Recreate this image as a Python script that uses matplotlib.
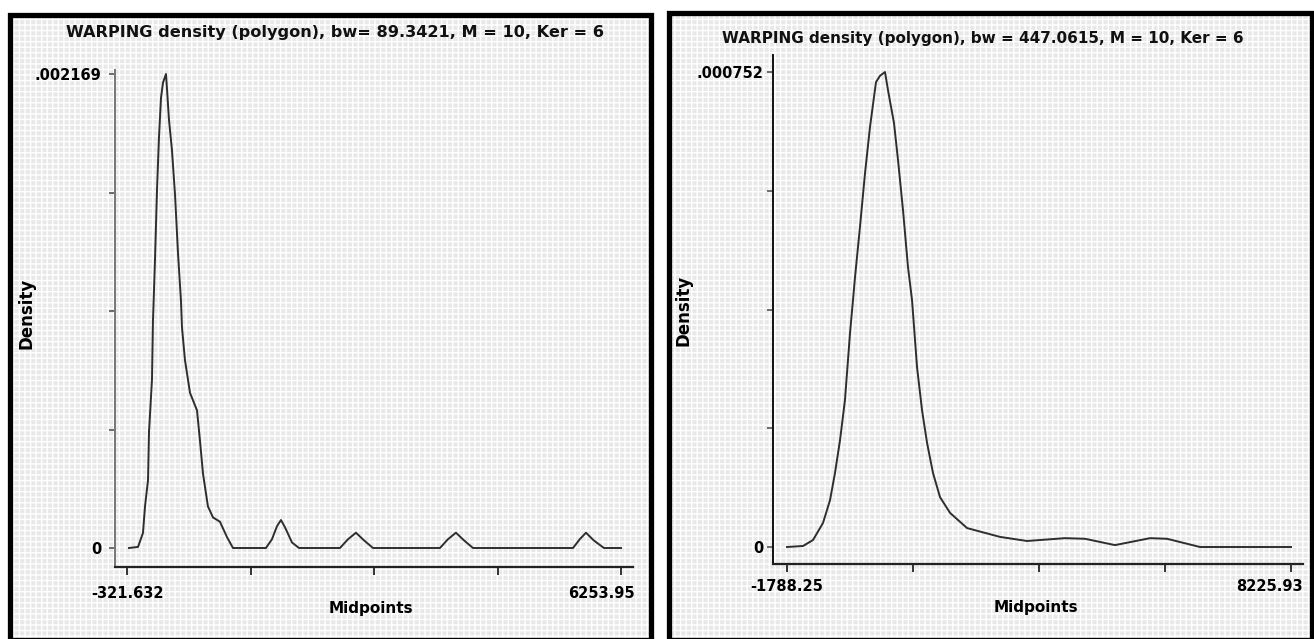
import numpy as np
import matplotlib
matplotlib.use('Agg')
import matplotlib.pyplot as plt
from matplotlib.patches import Rectangle
from matplotlib.transforms import ScaledTranslation

# left panel: bw = 89.3421
left_x = [-295, -175, -109, -82, -42, -29, 11, 24, 51, 78, 104, 131, 158, 197,
          211, 237, 277, 317, 357, 397, 410, 450, 517, 610, 650, 690, 756, 823, 916, 1009, 1089, 1182,
          1528, 1608, 1675, 1728, 1781, 1875, 1968,
          2513, 2620, 2726, 2833, 2953,
          3844, 3950, 4057, 4164, 4284,
          5615, 5705, 5788, 5890, 6027,
          6254]
left_y = [0, 5e-6, 6.9e-5, 1.9e-4, 3.1e-4, 5.3e-4, 7.7e-4, 1.04e-3, 1.32e-3, 1.64e-3, 1.88e-3, 2.06e-3, 2.13e-3, 2.169e-3,
          2.10e-3, 1.96e-3, 1.82e-3, 1.62e-3, 1.35e-3, 1.13e-3, 1.01e-3, 8.6e-4, 7.1e-4, 6.3e-4, 4.9e-4, 3.4e-4, 1.9e-4, 1.4e-4, 1.2e-4, 5e-5, 0, 0,
          0, 4e-5, 1.0e-4, 1.28e-4, 9.5e-5, 2.5e-5, 0,
          0, 4e-5, 7e-5, 3.5e-5, 0,
          0, 4e-5, 7e-5, 3.5e-5, 0,
          0, 4e-5, 7e-5, 3.5e-5, 0,
          0]
left_xrange = (-321.632, 6253.95)
left_ymax = 0.002169
left_xlabels = ['-321.632', '6253.95']
left_ylabels = ['.002169', '0']
left_title = 'WARPING density (polygon), bw= 89.3421, M = 10, Ker = 6'

# right panel: bw = 447.0615
right_x = [-1788, -1470, -1272, -1073, -934, -835, -735, -636, -536, -477, -437, -338, -238, -139, -20, 60, 159,
           219, 338, 417, 517, 616, 696, 795, 894, 994, 1113, 1252, 1451, 1789, 1928, 2444, 2981, 3736, 4133,
           4729, 5425, 5763, 6418, 8226]
right_y = [0, 1.6e-6, 1.1e-5, 3.8e-5, 7.4e-5, 1.17e-4, 1.69e-4, 2.33e-4, 3.39e-4, 3.91e-4, 4.27e-4, 5.07e-4, 5.92e-4, 6.65e-4, 7.36e-4, 7.46e-4, 7.52e-4,
           7.23e-4, 6.71e-4, 6.13e-4, 5.33e-4, 4.43e-4, 3.91e-4, 2.85e-4, 2.17e-4, 1.65e-4, 1.17e-4, 7.9e-5, 5.4e-5, 3.0e-5, 2.7e-5, 1.6e-5, 9.5e-6, 1.4e-5, 1.3e-5,
           3e-6, 1.4e-5, 1.3e-5, 0, 0]
right_xrange = (-1788.25, 8225.93)
right_ymax = 0.000752
right_xlabels = ['-1788.25', '8225.93']
right_ylabels = ['.000752', '0']
right_title = 'WARPING density (polygon), bw = 447.0615, M = 10, Ker = 6'

W, H = 1314, 639
plt.rcParams['font.family'] = ['DejaVu Sans']
plt.rcParams['hatch.linewidth'] = 1.0
fig = plt.figure(figsize=(W / 100, H / 100), dpi=100)
fig.patch.set_facecolor('white')


def px_box(x0, y0, x1, y1):
    # pixel box (top-left origin) -> figure fraction rect
    return [x0 / W, 1 - y1 / H, (x1 - x0) / W, (y1 - y0) / H]


def panel(x0, y0, x1, y1):
    r = px_box(x0, y0, x1, y1)
    bg = Rectangle((r[0], r[1]), r[2], r[3], transform=fig.transFigure,
                   facecolor='#e8e8e8', edgecolor='white', hatch='+++', lw=0, zorder=-10)
    fig.patches.append(bg)
    bd = Rectangle((r[0], r[1]), r[2], r[3], transform=fig.transFigure,
                   fill=False, edgecolor='black', lw=3.8, zorder=5)
    fig.patches.append(bd)


panel(9.5, 14.5, 650.5, 640)
panel(668.5, 12.5, 1312, 640)


def draw(rect, xs, ys, xrange_, ymax, xlabels, ylabels, title, title_xy, title_fs, xpix, ypix,
         last_shift, ylab_pad, xlab_pad, xlab_pos, ylab_pos, ycol):
    ax = fig.add_axes(px_box(*rect))
    ax.set_zorder(1)
    ax.set_facecolor('none')
    ax.plot(xs, ys, color='#2e2e2e', lw=1.4, solid_joinstyle='round')

    # limits derived from the pixel positions of the end ticks
    x0p, x1p = xpix
    upx = (xrange_[1] - xrange_[0]) / (x1p - x0p)
    ax.set_xlim(xrange_[0] - (x0p - rect[0]) * upx, xrange_[1] + (rect[2] - x1p) * upx)
    y0p, y1p = ypix
    upy = ymax / (y0p - y1p)
    ax.set_ylim(-(rect[3] - y0p) * upy, ymax + (y1p - rect[1]) * upy)

    xt = np.linspace(xrange_[0], xrange_[1], 5)
    yt = np.linspace(0, ymax, 5)
    ax.set_xticks(xt, [xlabels[0], '', '', '', xlabels[1]])
    ax.set_yticks(yt, [ylabels[1], '', '', '', ylabels[0]])

    for s in ['top', 'right']:
        ax.spines[s].set_visible(False)
    ax.spines['bottom'].set_color('#222222')
    ax.spines['bottom'].set_linewidth(1.6)
    ax.spines['left'].set_color(ycol)
    ax.spines['left'].set_linewidth(1.4)
    ax.tick_params(axis='x', direction='out', length=6, width=1.4, color='#333333',
                   pad=xlab_pad, labelsize=10.5)
    ax.tick_params(axis='y', direction='out', length=4, width=1.2, color='#555555',
                   pad=ylab_pad, labelsize=10.5)
    for lb in ax.get_xticklabels() + ax.get_yticklabels():
        lb.set_fontweight('bold')
    last = ax.get_xticklabels()[-1]
    last.set_horizontalalignment('right')
    last.set_transform(last.get_transform() + ScaledTranslation(last_shift / 100, 0, fig.dpi_scale_trans))

    ax.set_xlabel('Midpoints', fontsize=11, fontweight='bold', va='center')
    ax.xaxis.set_label_coords(*xlab_pos)
    ax.set_ylabel('Density', fontsize=12, fontweight='bold', va='center')
    ax.yaxis.set_label_coords(*ylab_pos)

    fig.text(title_xy[0] / W, 1 - title_xy[1] / H, title, ha='center', va='center',
             fontsize=title_fs, fontweight='bold', color='#111111')
    return ax


draw((115, 70, 633, 567), left_x, left_y, left_xrange, left_ymax, left_xlabels, left_ylabels,
     left_title, (335, 33), 11.6, (127, 621), (548, 74), 14, 6, 8,
     (0.494, -0.0825), (-0.170, 0.511), '#777777')
draw((773, 55, 1303, 564), right_x, right_y, right_xrange, right_ymax, right_xlabels, right_ylabels,
     right_title, (983, 38), 11.0, (787, 1291), (547, 72), 12, 3, 5,
     (0.496, -0.0864), (-0.168, 0.499), '#111111')

fig.savefig('out.png', dpi=100)
